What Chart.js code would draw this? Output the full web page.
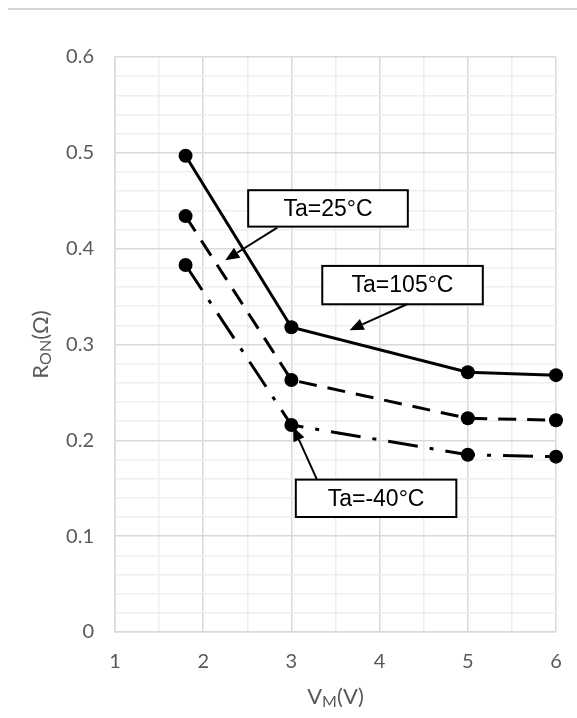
<!DOCTYPE html>
<html>
<head>
<meta charset="utf-8">
<style>
  html, body { margin: 0; padding: 0; background: #fff; }
  canvas { display: block; }
</style>
<script src="https://cdn.jsdelivr.net/npm/chart.js"></script>
</head>
<body>
<canvas id="chart" width="577" height="718"></canvas>
<script>
// supply voltage VM (V)
const vm = [1.8, 3, 5, 6];
// on-resistance (ohm) per ambient temperature
const ron105 = [0.497, 0.318, 0.271, 0.268];
const ron25 = [0.434, 0.263, 0.223, 0.221];
const ronM40 = [0.383, 0.216, 0.185, 0.183];
const seriesNames = ['Ta=105°C', 'Ta=25°C', 'Ta=-40°C'];

const TICK_COLOR = '#595959';
const tickFont = { family: 'Lato', size: 20 };

// callout boxes, placed in data units
const callouts = [
    { text: 'Ta=25°C', x0: 2.51, x1: 4.32, y0: 0.461, y1: 0.423, from: [2.84, 0.422], to: [2.25, 0.388] },
    { text: 'Ta=105°C', x0: 3.35, x1: 5.17, y0: 0.382, y1: 0.342, from: [4.31, 0.342], to: [3.66, 0.315] },
    { text: 'Ta=-40°C', x0: 3.05, x1: 4.87, y0: 0.159, y1: 0.120, from: [3.29, 0.159], to: [3.02, 0.214] }
];

const isMajor = (v, step) => Math.abs(v / step - Math.round(v / step)) < 1e-6;

function toPoints(ys) {
    return vm.map((x, i) => ({ x: x, y: ys[i] }));
}

function drawSub(ctx, parts, x, y) {
    // parts: [text, isSub]
    let total = 0;
    parts.forEach(p => {
        ctx.font = (p[1] ? '16px' : '22px') + ' Lato';
        total += ctx.measureText(p[0]).width;
    });
    let cx = x - total / 2;
    parts.forEach(p => {
        ctx.font = (p[1] ? '16px' : '22px') + ' Lato';
        ctx.fillText(p[0], cx, p[1] ? y + 5 : y);
        cx += ctx.measureText(p[0]).width;
    });
}

const extras = {
    id: 'extras',
    afterDatasetsDraw(chart) {
        const ctx = chart.ctx;
        const xs = chart.scales.x, ys = chart.scales.y;
        ctx.save();
        callouts.forEach(c => {
            const l = xs.getPixelForValue(c.x0), r = xs.getPixelForValue(c.x1);
            const t = ys.getPixelForValue(c.y0), b = ys.getPixelForValue(c.y1);
            ctx.fillStyle = '#fff';
            ctx.fillRect(l, t, r - l, b - t);
            ctx.strokeStyle = '#000';
            ctx.lineWidth = 2;
            ctx.strokeRect(l, t, r - l, b - t);
            ctx.fillStyle = '#000';
            ctx.font = '23px "Liberation Sans"';
            ctx.textAlign = 'center';
            ctx.textBaseline = 'middle';
            ctx.fillText(c.text, (l + r) / 2, (t + b) / 2 + 1);

            // arrow
            const fx = xs.getPixelForValue(c.from[0]), fy = ys.getPixelForValue(c.from[1]);
            const tx = xs.getPixelForValue(c.to[0]), ty = ys.getPixelForValue(c.to[1]);
            const ang = Math.atan2(ty - fy, tx - fx);
            const hl = 14, hw = 6;
            const bx = tx - hl * Math.cos(ang), by = ty - hl * Math.sin(ang);
            ctx.beginPath();
            ctx.moveTo(fx, fy);
            ctx.lineTo(bx, by);
            ctx.lineWidth = 2;
            ctx.stroke();
            ctx.beginPath();
            ctx.moveTo(tx, ty);
            ctx.lineTo(bx + hw * Math.sin(ang), by - hw * Math.cos(ang));
            ctx.lineTo(bx - hw * Math.sin(ang), by + hw * Math.cos(ang));
            ctx.closePath();
            ctx.fill();
        });
        ctx.restore();
    },
    afterDraw(chart) {
        const ctx = chart.ctx;
        const area = chart.chartArea;
        ctx.save();
        // separator line at the top
        ctx.strokeStyle = '#c8c8c8';
        ctx.lineWidth = 1.5;
        ctx.beginPath();
        ctx.moveTo(8, 9);
        ctx.lineTo(577, 9);
        ctx.stroke();

        ctx.fillStyle = TICK_COLOR;
        ctx.textAlign = 'left';
        ctx.textBaseline = 'middle';
        // x axis title
        drawSub(ctx, [['V', false], ['M', true], ['(V)', false]], (area.left + area.right) / 2, 697);
        // y axis title
        ctx.translate(41, (area.top + area.bottom) / 2);
        ctx.rotate(-Math.PI / 2);
        drawSub(ctx, [['R', false], ['ON', true], ['(Ω)', false]], 0, 0);
        ctx.restore();
    }
};

const lineStyle = {
    borderColor: '#000',
    backgroundColor: '#000',
    borderWidth: 3,
    pointRadius: 7,
    pointHoverRadius: 7,
    pointBackgroundColor: '#000',
    pointBorderColor: '#000',
    pointBorderWidth: 0,
    fill: false,
    tension: 0,
    clip: false
};

new Chart(document.getElementById('chart'), {
    type: 'line',
    data: {
        datasets: [
            Object.assign({ label: seriesNames[0], data: toPoints(ron105), borderDash: [] }, lineStyle),
            Object.assign({ label: seriesNames[1], data: toPoints(ron25), borderDash: [18, 11] }, lineStyle),
            Object.assign({ label: seriesNames[2], data: toPoints(ronM40), borderDash: [30, 12, 4, 12] }, lineStyle)
        ]
    },
    options: {
        responsive: false,
        animation: false,
        devicePixelRatio: 1,
        layout: { autoPadding: false, padding: { top: 57, right: 21, left: 0, bottom: 0 } },
        plugins: {
            legend: { display: false },
            tooltip: { enabled: false }
        },
        scales: {
            x: {
                type: 'linear',
                min: 1,
                max: 6,
                afterFit: s => { s.height = 86; s.paddingLeft = 0; s.paddingRight = 0; },
                ticks: {
                    stepSize: 0.5,
                    color: TICK_COLOR,
                    font: tickFont,
                    padding: 18,
                    maxRotation: 0,
                    autoSkip: false,
                    callback: v => isMajor(v, 1) ? String(Math.round(v)) : ''
                },
                grid: {
                    drawTicks: false,
                    lineWidth: 1.5,
                    color: c => (c.tick && isMajor(c.tick.value, 1)) ? '#d9d9d9' : '#eeeeee'
                },
                border: { color: '#d9d9d9', width: 1.5 }
            },
            y: {
                min: 0,
                max: 0.6,
                afterFit: s => { s.width = 115; },
                ticks: {
                    stepSize: 0.02,
                    color: TICK_COLOR,
                    font: tickFont,
                    padding: 21,
                    autoSkip: false,
                    callback: v => isMajor(v, 0.1) ? String(Math.round(v * 10) / 10) : ''
                },
                grid: {
                    drawTicks: false,
                    lineWidth: 1.5,
                    color: c => (c.tick && isMajor(c.tick.value, 0.1)) ? '#d9d9d9' : '#eeeeee'
                },
                border: { color: '#d9d9d9', width: 1.5 }
            }
        }
    },
    plugins: [extras]
});
</script>
</body>
</html>
